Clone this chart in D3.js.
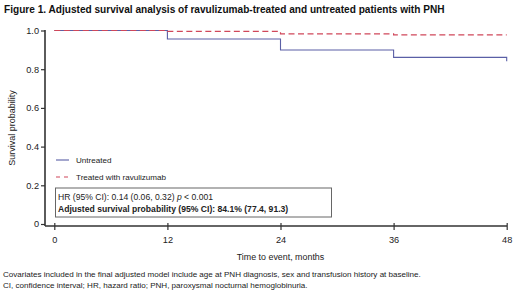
<!DOCTYPE html>
<html>
<head>
<meta charset="utf-8">
<script src="https://cdn.jsdelivr.net/npm/d3@7"></script>
<style>
  body { margin: 0; background: #fff; }
  svg { font-family: "Liberation Sans", Arial, sans-serif; }
</style>
</head>
<body>
<div id="chart"></div>
<script>
// time points (months) where the curves step
const months = [0, 12, 24, 36, 48];
const untreated = [1.0, 0.956, 0.899, 0.861, 0.841];
const treated = [1.0, 0.995, 0.983, 0.977, 0.977];
const xTicks = [0, 12, 24, 36, 48];
const yTicks = [0, 0.2, 0.4, 0.6, 0.8, 1.0];
const seriesNames = ["Untreated", "Treated with ravulizumab"];

const width = 520, height = 293;

const svg = d3.select("#chart")
    .append("svg")
    .attr("width", width)
    .attr("height", height);

const x = d3.scaleLinear()
    .domain([0, 48])
    .range([54.3, 506.7]);

const y = d3.scaleLinear()
    .domain([0, 1])
    .range([224, 30.5]);

// title
svg.append("text")
    .attr("x", 4)
    .attr("y", 13)
    .attr("font-size", "10.1px")
    .attr("font-weight", "bold")
    .attr("fill", "#111")
    .text("Figure 1. Adjusted survival analysis of ravulizumab-treated and untreated patients with PNH");

// y axis
const yAxis = svg.append("g")
    .attr("transform", "translate(45,0)")
    .call(d3.axisLeft(y).tickValues(yTicks).tickSize(4).tickPadding(2)
        .tickFormat(d => d === 0 ? "0" : d3.format(".1f")(d)));
yAxis.select(".domain").attr("d", "M0,30V226").attr("stroke", "#333").attr("stroke-width", 1.6);
yAxis.selectAll(".tick line").attr("stroke", "#333").attr("stroke-width", 1.2);
yAxis.selectAll("text").attr("font-size", "9.2px").attr("fill", "#222").attr("font-family", "Liberation Sans, Arial, sans-serif");

// x axis
const xAxis = svg.append("g")
    .attr("transform", "translate(0,226)")
    .call(d3.axisBottom(x).tickValues(xTicks).tickSize(4).tickPadding(6));
xAxis.select(".domain").attr("d", "M45,0H507").attr("stroke", "#333").attr("stroke-width", 1.6);
xAxis.selectAll(".tick line").attr("stroke", "#333").attr("stroke-width", 1.2).attr("y1", -3);
xAxis.selectAll("text").attr("font-size", "9.2px").attr("fill", "#222").attr("font-family", "Liberation Sans, Arial, sans-serif");

// axis titles
svg.append("text")
    .attr("transform", "translate(15,128) rotate(-90)")
    .attr("text-anchor", "middle")
    .attr("font-size", "9px")
    .attr("fill", "#222")
    .text("Survival probability");

svg.append("text")
    .attr("x", x(24))
    .attr("y", 260)
    .attr("text-anchor", "middle")
    .attr("font-size", "8.9px")
    .attr("fill", "#222")
    .text("Time to event, months");

// step curves
const line = d3.line()
    .x(d => x(d[0]))
    .y(d => y(d[1]))
    .curve(d3.curveStepAfter);

const untreatedPts = months.slice(0, 4).map((m, i) => [m, untreated[i]]);
untreatedPts.push([48, untreated[3]]);
untreatedPts.push([48, untreated[4]]);

svg.append("path")
    .attr("d", line(untreatedPts))
    .attr("fill", "none")
    .attr("stroke", "#5a5fa6")
    .attr("stroke-width", 1.1);

svg.append("path")
    .attr("d", line(months.map((m, i) => [m, treated[i]])))
    .attr("fill", "none")
    .attr("stroke", "#d0475a")
    .attr("stroke-width", 1.2)
    .attr("stroke-dasharray", "6,3.5");

// legend
const legend = svg.append("g");
const legY = [160, 177];
seriesNames.forEach((name, i) => {
    legend.append("line")
        .attr("x1", 56).attr("x2", 69)
        .attr("y1", legY[i]).attr("y2", legY[i])
        .attr("stroke", i === 0 ? "#5a5fa6" : "#d0475a")
        .attr("stroke-width", 1.1)
        .attr("stroke-dasharray", i === 0 ? null : "4,4");
    legend.append("text")
        .attr("x", 76)
        .attr("y", legY[i] + 3)
        .attr("font-size", "8.1px")
        .attr("fill", "#222")
        .text(name);
});

// stats box
svg.append("rect")
    .attr("x", 55.5).attr("y", 188)
    .attr("width", 276).attr("height", 29)
    .attr("fill", "#fff")
    .attr("stroke", "#666")
    .attr("stroke-width", 1);

const hr = svg.append("text")
    .attr("x", 58)
    .attr("y", 199.5)
    .attr("font-size", "8.6px")
    .attr("fill", "#222");
hr.append("tspan").text("HR (95% CI): 0.14 (0.06, 0.32) ");
hr.append("tspan").attr("font-style", "italic").text("p");
hr.append("tspan").text(" < 0.001");

svg.append("text")
    .attr("x", 58)
    .attr("y", 211.5)
    .attr("font-size", "8.6px")
    .attr("font-weight", "bold")
    .attr("fill", "#222")
    .text("Adjusted survival probability (95% CI): 84.1% (77.4, 91.3)");

// footnotes
const notes = [
    "Covariates included in the final adjusted model include age at PNH diagnosis, sex and transfusion history at baseline.",
    "CI, confidence interval; HR, hazard ratio; PNH, paroxysmal nocturnal hemoglobinuria."
];
svg.selectAll(".note")
    .data(notes)
    .join("text")
    .attr("class", "note")
    .attr("x", 3)
    .attr("y", (d, i) => 277 + i * 10.5)
    .attr("font-size", "8.05px")
    .attr("fill", "#222")
    .text(d => d);
</script>
</body>
</html>
